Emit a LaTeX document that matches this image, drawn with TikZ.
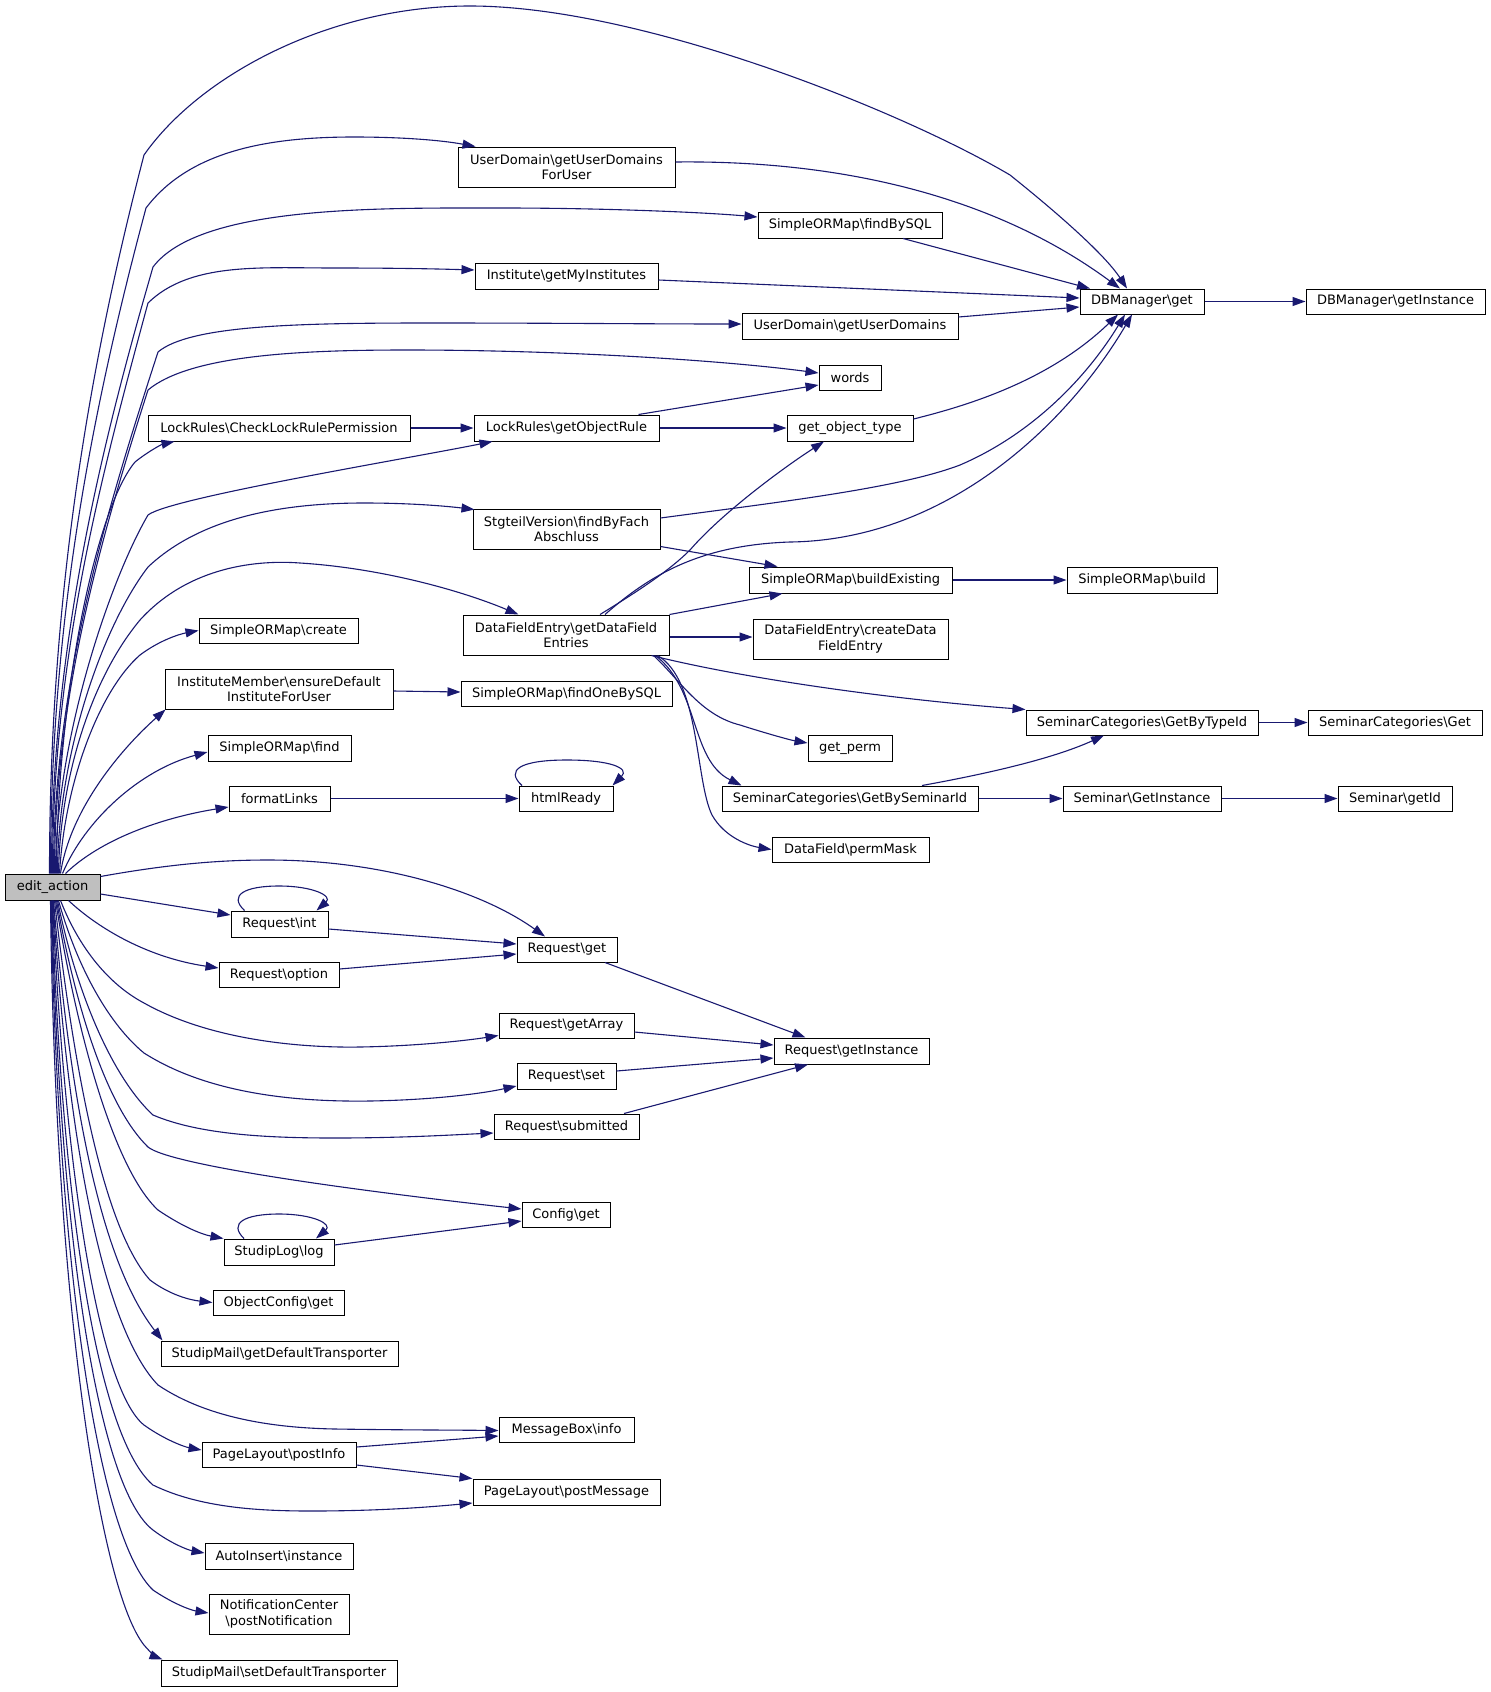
\documentclass[tikz,border=0pt]{standalone}
\usepackage{fontspec}
\setmainfont{DejaVu Sans}
\usetikzlibrary{arrows.meta}
\definecolor{edgeblue}{HTML}{191970}
\definecolor{nodegray}{HTML}{BFBFBF}
\begin{document}
\begin{tikzpicture}[x=1pt,y=-1pt,
  box/.style={draw=black, line width=1pt, fill=white, inner sep=0pt, align=center, font=\fontsize{13}{15.3}\selectfont},
  cl/.style={draw=edgeblue, line width=1.1pt, -{Triangle[length=13pt,width=9pt]}},
]
\useasboundingbox (0,0) rectangle (1491,1692);
\fill[white] (0,0) rectangle (1491,1692);
% nodes
\node[box, fill=nodegray, minimum width=95pt, minimum height=26pt] (E) at (52.5,887) {edit\_action};
\node[box, minimum width=124pt, minimum height=25pt] (DBg) at (1142,301.5) {DBManager\textbackslash get};
\node[box, minimum width=179pt, minimum height=25pt] (DBi) at (1395.5,301.5) {DBManager\textbackslash getInstance};
\node[box, minimum width=217pt, minimum height=40pt] (UDfU) at (566.5,167) {UserDomain\textbackslash getUserDomains\\ForUser};
\node[box, minimum width=184pt, minimum height=26pt] (fBS) at (850,225) {SimpleORMap\textbackslash findBySQL};
\node[box, minimum width=183pt, minimum height=26pt] (gMI) at (566.5,276) {Institute\textbackslash getMyInstitutes};
\node[box, minimum width=216pt, minimum height=26pt] (gUD) at (850,326) {UserDomain\textbackslash getUserDomains};
\node[box, minimum width=62pt, minimum height=25pt] (words) at (850,377.5) {words};
\node[box, minimum width=262pt, minimum height=26pt] (CLRP) at (279,428) {LockRules\textbackslash CheckLockRulePermission};
\node[box, minimum width=185pt, minimum height=26pt] (gOR) at (566.5,428) {LockRules\textbackslash getObjectRule};
\node[box, minimum width=126pt, minimum height=26pt] (got) at (850,428) {get\_object\_type};
\node[box, minimum width=187pt, minimum height=40pt] (Stg) at (566.5,529) {StgteilVersion\textbackslash findByFach\\Abschluss};
\node[box, minimum width=206pt, minimum height=40pt] (DFE) at (566,635) {DataFieldEntry\textbackslash getDataField\\Entries};
\node[box, minimum width=203pt, minimum height=26pt] (BE) at (850.5,580) {SimpleORMap\textbackslash buildExisting};
\node[box, minimum width=150pt, minimum height=26pt] (Bu) at (1142,580) {SimpleORMap\textbackslash build};
\node[box, minimum width=195pt, minimum height=40pt] (cDFE) at (850.5,639) {DataFieldEntry\textbackslash createData\\FieldEntry};
\node[box, minimum width=159pt, minimum height=25pt] (create) at (278.5,630.5) {SimpleORMap\textbackslash create};
\node[box, minimum width=228pt, minimum height=40pt] (IM) at (279,689) {InstituteMember\textbackslash ensureDefault\\InstituteForUser};
\node[box, minimum width=211pt, minimum height=25pt] (fOBS) at (566.5,693.5) {SimpleORMap\textbackslash findOneBySQL};
\node[box, minimum width=232pt, minimum height=25pt] (GBT) at (1142,722.5) {SeminarCategories\textbackslash GetByTypeId};
\node[box, minimum width=174pt, minimum height=25pt] (SCG) at (1395,722.5) {SeminarCategories\textbackslash Get};
\node[box, minimum width=143pt, minimum height=26pt] (find) at (279.5,748) {SimpleORMap\textbackslash find};
\node[box, minimum width=84pt, minimum height=26pt] (gp) at (850,748) {get\_perm};
\node[box, minimum width=101pt, minimum height=25pt] (fL) at (279.5,798.5) {formatLinks};
\node[box, minimum width=94pt, minimum height=25pt] (hR) at (566,798.5) {htmlReady};
\node[box, minimum width=256pt, minimum height=25pt] (GBS) at (850,798.5) {SeminarCategories\textbackslash GetBySeminarId};
\node[box, minimum width=158pt, minimum height=25pt] (SGI) at (1142,798.5) {Seminar\textbackslash GetInstance};
\node[box, minimum width=114pt, minimum height=25pt] (Sid) at (1395,798.5) {Seminar\textbackslash getId};
\node[box, minimum width=157pt, minimum height=25pt] (pM) at (850.5,849.5) {DataField\textbackslash permMask};
\node[box, minimum width=97pt, minimum height=26pt] (Rint) at (279.5,924) {Request\textbackslash int};
\node[box, minimum width=100pt, minimum height=25pt] (Rget) at (567,949.5) {Request\textbackslash get};
\node[box, minimum width=120pt, minimum height=25pt] (Ropt) at (279,974.5) {Request\textbackslash option};
\node[box, minimum width=135pt, minimum height=25pt] (RgA) at (566.5,1025.5) {Request\textbackslash getArray};
\node[box, minimum width=155pt, minimum height=26pt] (RgI) at (851.5,1051) {Request\textbackslash getInstance};
\node[box, minimum width=99pt, minimum height=26pt] (Rset) at (566.5,1076) {Request\textbackslash set};
\node[box, minimum width=145pt, minimum height=25pt] (Rsub) at (566.5,1126.5) {Request\textbackslash submitted};
\node[box, minimum width=88pt, minimum height=25pt] (Cg) at (566,1214.5) {Config\textbackslash get};
\node[box, minimum width=110pt, minimum height=26pt] (SLl) at (279,1252) {StudipLog\textbackslash log};
\node[box, minimum width=131pt, minimum height=25pt] (OCg) at (278.5,1302.5) {ObjectConfig\textbackslash get};
\node[box, minimum width=237pt, minimum height=25pt] (SMg) at (279.5,1353.5) {StudipMail\textbackslash getDefaultTransporter};
\node[box, minimum width=135pt, minimum height=25pt] (MBi) at (566.5,1429.5) {MessageBox\textbackslash info};
\node[box, minimum width=154pt, minimum height=25pt] (PLi) at (279,1454.5) {PageLayout\textbackslash postInfo};
\node[box, minimum width=187pt, minimum height=26pt] (PLm) at (566.5,1492) {PageLayout\textbackslash postMessage};
\node[box, minimum width=148pt, minimum height=26pt] (AIi) at (279,1556) {AutoInsert\textbackslash instance};
\node[box, minimum width=140pt, minimum height=40pt] (NC) at (279,1614) {NotificationCenter\\\textbackslash postNotification};
\node[box, minimum width=236pt, minimum height=26pt] (SMs) at (279,1673) {StudipMail\textbackslash setDefaultTransporter};
% edges from edit_action, upward
\draw[cl] ([xshift=-3pt]E.north) .. controls (49.5,600) and (88,370) .. (144,155) .. controls (200,75) and (330,6) .. (470,6) .. controls (640,6) and (900,110) .. (1010,175) .. controls (1060,215) and (1105,255) .. ([xshift=-15pt]DBg.north);
\draw[cl] ([xshift=-2pt]E.north) .. controls (50.5,620) and (92,410) .. (146,208) .. controls (190,150) and (270,137) .. (354,137) .. controls (400,137) and (440,140) .. ([xshift=18pt]UDfU.north west);
\draw[cl] ([xshift=-1pt]E.north) .. controls (51.5,650) and (100,450) .. (153,267) .. controls (200,205) and (380,208) .. (502,208) .. controls (600,208) and (700,212) .. ([yshift=8pt]fBS.west);
\draw[cl] (E.north) .. controls (52.5,660) and (100,480) .. (148,303) .. controls (190,262) and (260,268) .. (335,268) .. controls (400,268) and (440,269) .. ([yshift=6pt]gMI.west);
\draw[cl] ([xshift=1pt]E.north) .. controls (53.5,680) and (110,500) .. (158,352) .. controls (190,325) and (300,323) .. (430,323) .. controls (550,323) and (650,324) .. ([yshift=2pt]gUD.west);
\draw[cl] ([xshift=2pt]E.north) .. controls (54.5,700) and (100,540) .. (148,390) .. controls (190,355) and (300,350) .. (407,350) .. controls (560,350) and (720,360) .. ([yshift=4.5pt]words.west);
\draw[cl] ([xshift=4pt]E.north) .. controls (57,700) and (95,510) .. (135,462) .. controls (150,450) and (163,444) .. ([xshift=27pt]CLRP.south west);
\draw[cl] ([xshift=3pt]E.north) .. controls (55.5,740) and (110,580) .. (148,515) .. controls (170,498) and (400,460) .. ([xshift=19pt]gOR.south west);
\draw[cl] ([xshift=5pt]E.north) .. controls (57.5,760) and (100,630) .. (148,567) .. controls (200,518) and (280,503) .. (364,503) .. controls (410,503) and (445,506) .. ([xshift=2pt,yshift=-1pt]Stg.north west);
\draw[cl] ([xshift=6pt]E.north) .. controls (60,780) and (90,680) .. (140,620) .. controls (190,565) and (260,560) .. (300,563) .. controls (380,568) and (460,590) .. ([xshift=56pt]DFE.north west);
\draw[cl] ([xshift=7pt]E.north) .. controls (65,780) and (100,690) .. (140,655) .. controls (160,640) and (180,634) .. (create.west);
\draw[cl] ([xshift=8pt]E.north) .. controls (70,810) and (120,750) .. ([xshift=1pt]IM.south west);
\draw[cl] ([xshift=10pt]E.north) .. controls (85,820) and (140,770) .. ([yshift=-4pt]find.west);
\draw[cl] ([xshift=13pt]E.north) .. controls (100,840) and (160,818) .. ([yshift=-8.5pt]fL.west);
% edges from edit_action, right and downward
\draw[cl] ([yshift=-3pt]E.north east) .. controls (170,864) and (220,860) .. (268,860) .. controls (380,860) and (480,890) .. ([xshift=-22pt]Rget.north);
\draw[cl] ([yshift=-7pt]E.east) -- ([yshift=9pt]Rint.west);
\draw[cl] ([xshift=16pt]E.south) .. controls (100,930) and (150,958) .. ([yshift=6.5pt]Ropt.west);
\draw[cl] ([xshift=8pt]E.south) .. controls (80,950) and (110,985) .. (144,1003) .. controls (210,1040) and (300,1048) .. (360,1047) .. controls (420,1046) and (470,1040) .. ([yshift=-10pt]RgA.west);
\draw[cl] ([xshift=6pt]E.south) .. controls (78,970) and (110,1025) .. (144,1053) .. controls (210,1095) and (300,1102) .. (370,1101) .. controls (430,1100) and (480,1094) .. ([yshift=-10pt]Rset.west);
\draw[cl] ([xshift=5pt]E.south) .. controls (78,1000) and (115,1080) .. (153,1115) .. controls (200,1135) and (270,1138) .. (335,1138) .. controls (400,1138) and (450,1135) .. ([yshift=-6.5pt]Rsub.west);
\draw[cl] ([xshift=4pt]E.south) .. controls (78,1020) and (110,1110) .. (148,1147) .. controls (170,1165) and (350,1190) .. ([yshift=5.5pt]Cg.west);
\draw[cl] ([xshift=3pt]E.south) .. controls (78,1040) and (115,1170) .. (158,1210) .. controls (180,1225) and (200,1234) .. (SLl.north west);
\draw[cl] ([xshift=2pt]E.south) .. controls (75,1080) and (105,1230) .. (150,1280) .. controls (170,1295) and (190,1300) .. (OCg.west);
\draw[cl] ([xshift=1pt]E.south) .. controls (70,1100) and (100,1260) .. ([xshift=2pt]SMg.north west);
\draw[cl] ([xshift=0.5pt]E.south) .. controls (68,1150) and (105,1330) .. (158,1385) .. controls (210,1420) and (280,1428) .. (335,1429) .. controls (400,1430) and (450,1430) .. ([yshift=-1pt]MBi.west);
\draw[cl] (E.south) .. controls (65,1180) and (100,1390) .. (144,1425) .. controls (165,1440) and (185,1447) .. ([yshift=4.5pt]PLi.west);
\draw[cl] ([xshift=-0.5pt]E.south) .. controls (62,1220) and (100,1440) .. (153,1485) .. controls (200,1508) and (260,1511) .. (311,1511) .. controls (380,1511) and (430,1507) .. ([yshift=-11pt]PLm.west);
\draw[cl] ([xshift=-1pt]E.south) .. controls (60,1250) and (100,1490) .. (153,1530) .. controls (170,1543) and (188,1550) .. ([yshift=3pt]AIi.west);
\draw[cl] ([xshift=-1.5pt]E.south) .. controls (58,1280) and (100,1540) .. (153,1590) .. controls (172,1603) and (190,1610) .. ([yshift=1pt]NC.west);
\draw[cl] ([xshift=-2pt]E.south) .. controls (55,1300) and (100,1590) .. (144,1645) .. controls (150,1652) and (156,1657) .. ([xshift=2pt]SMs.north west);
% self loops
\draw[cl] ([xshift=-35pt]Rint.north) .. controls (228,895) and (245,886) .. (279,886) .. controls (313,886) and (333,896) .. ([xshift=37pt]Rint.north);
\draw[cl] ([xshift=-35pt]SLl.north) .. controls (228,1223) and (245,1214) .. (279,1214) .. controls (313,1214) and (333,1224) .. ([xshift=37pt]SLl.north);
\draw[cl] ([xshift=-44pt]hR.north) .. controls (505,770) and (520,760) .. (567,760) .. controls (610,760) and (630,768) .. ([xshift=-1pt]hR.north east);
% other edges
\draw[cl] ([yshift=5pt]UDfU.east) .. controls (850,160) and (1000,200) .. ([xshift=-22pt]DBg.north);
\draw[cl] ([xshift=53pt]fBS.south) -- ([xshift=-52pt]DBg.north);
\draw[cl] ([yshift=-4pt]gMI.east) -- ([yshift=3.5pt]DBg.west);
\draw[cl] ([yshift=9pt]gUD.east) -- ([yshift=-5.5pt]DBg.west);
\draw[cl] (DBg.east) -- (DBi.west);
\draw[cl] ([xshift=72pt]gOR.north) -- ([yshift=-7.5pt]words.west);
\draw[cl] (gOR.east) -- (got.west);
\draw[cl] (CLRP.east) -- (gOR.west);
\draw[cl] ([yshift=9pt]got.east) .. controls (970,405) and (1050,380) .. ([xshift=-24pt]DBg.south);
\draw[cl] ([yshift=11pt]Stg.east) .. controls (780,502) and (900,488) .. (960,465) .. controls (1030,435) and (1085,380) .. ([xshift=-17pt]DBg.south);
\draw[cl] ([xshift=39pt]DFE.north) .. controls (650,575) and (700,545) .. (790,542) .. controls (950,540) and (1070,420) .. ([xshift=-10pt]DBg.south);
\draw[cl] ([xshift=34pt]DFE.north) .. controls (640,590) and (670,570) .. (690,550) .. controls (720,515) and (780,470) .. ([xshift=-26pt]got.south);
\draw[cl] ([yshift=3pt]Stg.south east) -- ([xshift=29pt]BE.north west);
\draw[cl] (DFE.north east) -- ([xshift=34pt]BE.south west);
\draw[cl] ([yshift=-2pt]DFE.east) -- ([yshift=2pt]cDFE.west);
\draw[cl] ([xshift=-18pt]DFE.south east) .. controls (750,680) and (900,700) .. (GBT.north west);
\draw[cl] ([xshift=-16pt]DFE.south east) .. controls (680,680) and (700,715) .. (740,725) .. controls (765,733) and (790,740) .. ([yshift=5pt]gp.west);
\draw[cl] ([xshift=-14pt]DFE.south east) .. controls (700,690) and (690,760) .. ([xshift=20pt]GBS.north west);
\draw[cl] ([xshift=-12pt]DFE.south east) .. controls (700,680) and (695,780) .. (712,815) .. controls (725,838) and (750,846) .. (pM.west);
\draw[cl] (BE.east) -- (Bu.west);
\draw[cl] (GBT.east) -- (SCG.west);
\draw[cl] (GBS.east) -- (SGI.west);
\draw[cl] (SGI.east) -- (Sid.west);
\draw[cl] ([xshift=72pt]GBS.north) .. controls (980,775) and (1050,760) .. ([xshift=-38pt]GBT.south);
\draw[cl] ([yshift=-2pt]IM.east) -- ([yshift=1.5pt]fOBS.west);
\draw[cl] (fL.east) -- (hR.west);
\draw[cl] ([yshift=-5pt]Rint.east) -- ([yshift=5.5pt]Rget.west);
\draw[cl] ([yshift=5.5pt]Ropt.east) -- ([yshift=-4.5pt]Rget.west);
\draw[cl] ([xshift=38pt]Rget.south) -- ([xshift=-46pt]RgI.north);
\draw[cl] ([yshift=-6.5pt]RgA.east) -- ([yshift=6pt]RgI.west);
\draw[cl] ([yshift=5pt]Rset.east) -- ([yshift=-7pt]RgI.west);
\draw[cl] ([xshift=57.5pt]Rsub.north) -- ([xshift=-43.5pt]RgI.south);
\draw[cl] ([yshift=7pt]SLl.east) -- ([yshift=-6.5pt]Cg.west);
\draw[cl] ([yshift=7.5pt]PLi.east) -- ([yshift=-6.5pt]MBi.west);
\draw[cl] ([yshift=-10.5pt]PLi.east) -- (PLm.north west);
\end{tikzpicture}
\end{document}
